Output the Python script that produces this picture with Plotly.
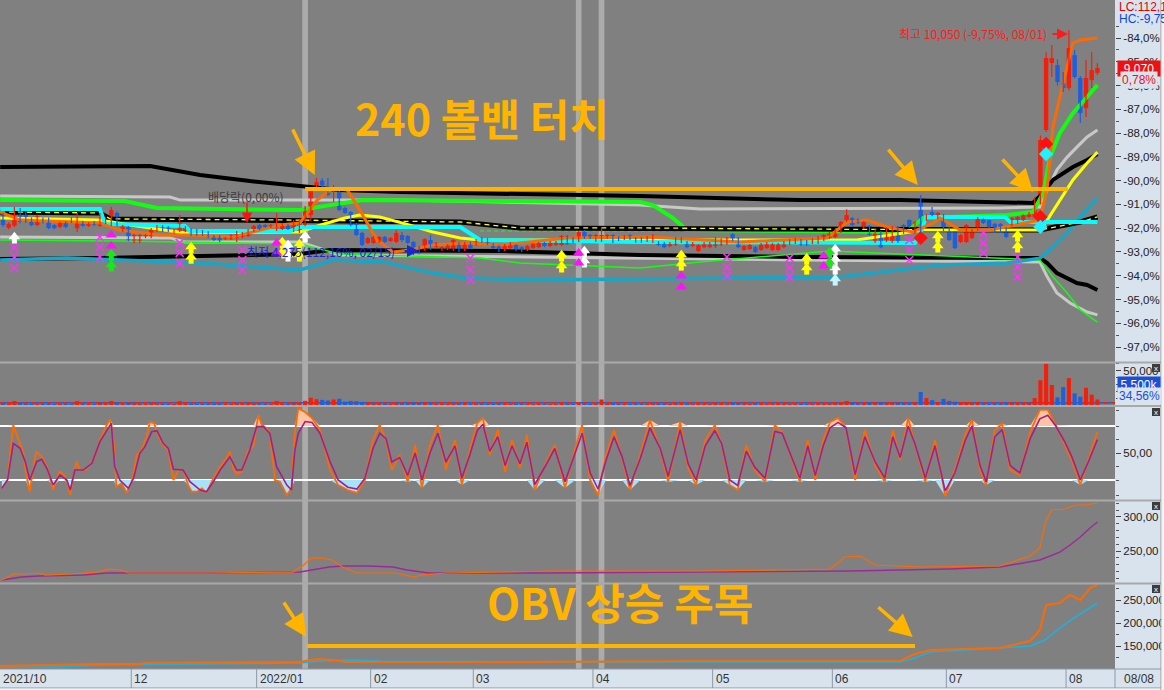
import plotly.graph_objects as go

# ---------------- data ----------------
month_labels = ['2021/10', '12', '2022/01', '02', '03', '04', '05', '06', '07', '08']
month_starts = [0, 23, 45, 65, 83, 104, 125, 146, 166, 187]

opens = [
    -91.45, -91.98, -91.90, -91.20, -91.32, -91.58, -91.87, -91.58, -91.60, -91.87,
    -91.95, -91.74, -91.58, -92.00, -91.74, -91.90, -91.74, -91.90, -91.78, -91.87,
    -91.36, -92.12, -91.95, -92.58, -92.58, -92.37, -92.37, -92.12, -91.91, -91.95,
    -92.20, -92.12, -92.12, -92.04, -92.08, -92.12, -92.16, -92.33, -92.33, -92.46,
    -92.46, -92.42, -92.37, -92.33, -92.12, -91.87, -91.87, -91.95, -91.95, -92.04,
    -91.87, -92.12, -92.16, -91.87, -91.45, -90.27, -90.00, -90.39, -90.48, -90.39,
    -91.15, -91.32, -91.82, -92.20, -92.62, -92.62, -92.58, -92.37, -92.54, -92.58,
    -92.29, -92.33, -92.58, -92.80, -92.92, -92.50, -92.80, -92.92, -92.88, -92.88,
    -92.62, -92.92, -92.62, -92.71, -92.42, -92.46, -92.67, -92.75, -92.92, -92.84,
    -92.71, -92.80, -92.92, -92.84, -92.80, -92.62, -92.75, -92.71, -92.71, -92.33,
    -92.42, -92.54, -92.16, -92.29, -92.54, -92.50, -92.42, -92.29, -92.37, -92.46,
    -92.29, -92.42, -92.42, -92.54, -92.54, -92.58, -92.62, -92.75, -92.71, -92.58,
    -92.58, -92.75, -92.96, -92.80, -92.80, -92.75, -92.71, -92.67, -92.25, -92.42,
    -92.92, -92.88, -92.80, -92.92, -92.84, -92.92, -92.92, -92.80, -92.67, -92.62,
    -92.50, -92.54, -92.62, -92.62, -92.50, -92.42, -92.37, -92.16, -91.66, -91.58,
    -91.62, -92.00, -91.91, -92.58, -92.16, -92.50, -92.58, -91.95, -91.87, -91.66,
    -92.20, -90.82, -91.66, -91.32, -91.58, -91.45, -91.99, -92.16, -92.58, -92.58,
    -92.42, -92.08, -91.62, -91.66, -91.82, -91.82, -91.99, -91.87, -91.78, -91.66,
    -91.53, -91.53, -90.94, -87.87, -85.05, -85.14, -85.89, -86.10, -84.72, -85.68,
    -86.95, -85.77, -85.47]
highs = [
    -91.36, -91.75, -91.11, -91.15, -91.28, -91.55, -91.45, -91.55, -91.55, -91.82,
    -91.74, -91.70, -91.55, -91.36, -91.70, -91.74, -91.70, -91.36, -91.55, -91.11,
    -91.30, -91.87, -91.91, -92.25, -92.25, -92.25, -91.99, -91.87, -91.87, -91.91,
    -92.04, -91.45, -91.91, -92.00, -92.04, -92.08, -92.12, -92.29, -92.29, -92.37,
    -92.25, -92.12, -92.16, -92.04, -91.87, -91.82, -91.82, -91.82, -91.36, -91.78,
    -91.82, -91.66, -91.66, -91.07, -90.27, -89.89, -89.90, -89.89, -90.18, -90.35,
    -91.10, -91.28, -91.78, -92.16, -92.37, -92.33, -92.33, -92.33, -92.37, -92.08,
    -92.16, -92.29, -92.54, -92.75, -92.42, -92.29, -92.58, -92.75, -92.67, -92.46,
    -92.58, -92.58, -92.58, -92.46, -92.37, -92.42, -92.62, -92.71, -92.67, -92.58,
    -92.67, -92.75, -92.71, -92.62, -92.58, -92.58, -92.54, -92.54, -92.29, -92.29,
    -92.37, -92.12, -92.08, -92.25, -92.25, -91.95, -92.25, -92.25, -92.33, -92.29,
    -92.25, -92.37, -92.37, -92.33, -92.25, -92.54, -92.58, -92.58, -92.37, -92.37,
    -92.54, -92.58, -92.67, -92.58, -92.58, -92.37, -92.42, -92.37, -92.20, -92.37,
    -92.71, -92.67, -92.75, -92.62, -92.58, -92.62, -92.62, -92.54, -92.46, -92.42,
    -92.46, -92.50, -92.42, -92.33, -92.25, -92.16, -92.04, -91.70, -91.20, -91.53,
    -91.58, -91.70, -91.87, -92.04, -92.12, -91.95, -91.91, -91.91, -91.82, -91.62,
    -91.70, -90.60, -91.41, -91.11, -91.32, -91.41, -91.95, -92.12, -92.25, -91.82,
    -92.04, -91.53, -91.58, -91.62, -91.78, -91.78, -91.95, -91.53, -91.49, -91.41,
    -91.32, -90.69, -88.10, -84.60, -84.29, -84.90, -85.43, -83.66, -84.50, -85.60,
    -84.93, -84.59, -85.05]
lows = [
    -91.95, -92.05, -91.95, -91.80, -91.78, -91.92, -91.92, -91.80, -92.05, -92.05,
    -92.00, -92.00, -91.78, -92.16, -91.95, -91.95, -91.92, -91.95, -91.82, -91.92,
    -91.92, -92.16, -92.55, -92.63, -92.63, -92.42, -92.42, -92.16, -92.16, -92.16,
    -92.24, -92.16, -92.16, -92.33, -92.33, -92.33, -92.42, -92.54, -92.58, -92.50,
    -92.50, -92.58, -92.42, -92.37, -92.16, -92.08, -91.99, -91.99, -92.12, -92.08,
    -92.08, -92.16, -92.20, -91.92, -91.70, -90.31, -90.27, -90.65, -90.90, -91.28,
    -91.40, -91.92, -92.33, -92.75, -92.67, -92.67, -92.62, -92.62, -92.58, -92.62,
    -92.58, -92.67, -93.13, -93.10, -92.96, -92.92, -92.84, -92.96, -92.92, -92.96,
    -93.00, -92.96, -92.88, -92.75, -92.62, -92.71, -92.88, -93.00, -92.96, -92.88,
    -92.96, -93.00, -92.96, -92.88, -92.84, -92.80, -92.80, -92.75, -92.75, -92.71,
    -92.62, -92.58, -92.46, -92.46, -92.58, -92.58, -92.46, -92.62, -92.54, -92.50,
    -92.50, -92.62, -92.62, -92.58, -92.62, -92.75, -92.84, -92.80, -92.75, -92.62,
    -92.84, -92.80, -93.00, -92.84, -92.84, -92.84, -92.75, -92.71, -92.54, -92.84,
    -92.96, -92.92, -93.04, -92.96, -92.88, -92.96, -92.96, -92.84, -92.71, -92.67,
    -92.75, -92.75, -92.67, -92.67, -92.54, -92.46, -92.42, -92.20, -91.74, -91.92,
    -91.82, -92.04, -92.33, -92.62, -92.84, -92.58, -92.62, -92.62, -92.25, -91.99,
    -92.24, -92.20, -91.70, -91.50, -91.62, -92.12, -92.54, -92.88, -92.62, -92.62,
    -92.46, -92.12, -91.82, -91.99, -92.20, -92.20, -92.42, -91.92, -91.82, -91.70,
    -91.58, -91.58, -91.00, -87.95, -85.64, -86.00, -86.27, -86.20, -85.70, -87.58,
    -87.32, -86.10, -85.56]
closes = [
    -91.87, -91.82, -91.32, -91.74, -91.74, -91.87, -91.50, -91.74, -92.00, -92.00,
    -91.78, -91.95, -91.74, -91.74, -91.90, -91.78, -91.87, -91.58, -91.58, -91.24,
    -91.87, -91.91, -92.50, -92.29, -92.29, -92.29, -92.04, -91.91, -92.12, -92.12,
    -92.08, -91.70, -91.95, -92.29, -92.29, -92.29, -92.37, -92.50, -92.54, -92.42,
    -92.29, -92.25, -92.20, -92.08, -91.91, -92.04, -91.95, -91.87, -91.87, -91.82,
    -92.04, -91.70, -91.70, -91.15, -90.31, -90.06, -90.20, -90.60, -90.27, -91.24,
    -91.36, -91.87, -92.29, -92.71, -92.42, -92.37, -92.37, -92.58, -92.42, -92.20,
    -92.50, -92.62, -93.04, -93.04, -92.46, -92.80, -92.62, -92.80, -92.71, -92.50,
    -92.96, -92.62, -92.84, -92.50, -92.58, -92.67, -92.84, -92.96, -92.71, -92.62,
    -92.92, -92.96, -92.75, -92.67, -92.62, -92.75, -92.58, -92.58, -92.33, -92.67,
    -92.58, -92.16, -92.42, -92.42, -92.29, -92.29, -92.29, -92.58, -92.50, -92.33,
    -92.46, -92.58, -92.58, -92.37, -92.33, -92.71, -92.80, -92.62, -92.42, -92.42,
    -92.80, -92.62, -92.71, -92.62, -92.62, -92.50, -92.46, -92.42, -92.50, -92.80,
    -92.75, -92.71, -93.00, -92.67, -92.62, -92.67, -92.67, -92.58, -92.50, -92.46,
    -92.71, -92.71, -92.46, -92.37, -92.29, -92.20, -92.08, -91.74, -91.45, -91.87,
    -91.78, -91.74, -92.29, -92.08, -92.80, -92.08, -91.95, -92.58, -92.20, -91.95,
    -91.74, -91.74, -91.45, -91.45, -91.36, -92.08, -92.50, -92.84, -92.29, -91.87,
    -92.08, -91.58, -91.78, -91.95, -92.16, -92.16, -92.37, -91.58, -91.53, -91.45,
    -91.36, -91.07, -88.29, -84.84, -84.84, -85.85, -86.10, -84.42, -85.64, -87.16,
    -85.68, -85.35, -85.26]
volumes = [
    2400, 1800, 5800, 2600, 2000, 1700, 2300, 1600, 2200, 1500,
    1900, 1700, 1500, 5600, 1600, 1800, 1500, 3000, 2000, 5800,
    2600, 1800, 3200, 2400, 2200, 1600, 2500, 2000, 1700, 1600,
    1500, 5700, 1800, 1900, 1600, 1500, 1800, 2000, 1900, 1400,
    1700, 2200, 1800, 2600, 2300, 1900, 1500, 1600, 5800, 1900,
    1800, 2800, 3000, 6000, 10500, 8500, 7500, 6500, 8000, 9000,
    5000, 6000, 5500, 4500, 3000, 2600, 2200, 2000, 1800, 2800,
    2000, 2200, 3200, 2600, 2800, 2400, 1800, 1600, 1700, 2400,
    2000, 2100, 1700, 1900, 1800, 1700, 1900, 2000, 1800, 1900,
    1600, 1700, 1800, 1600, 1700, 1500, 1600, 1500, 2400, 2200,
    1800, 2600, 2200, 1800, 2000, 8000, 2200, 2400, 1700, 1600,
    1800, 1900, 1700, 1800, 2200, 2000, 1900, 1800, 2400, 1900,
    2000, 1700, 2300, 1700, 1800, 2400, 2000, 1900, 2600, 2400,
    2000, 1700, 2200, 1900, 1800, 1900, 1800, 1900, 2000, 1800,
    1800, 1700, 1900, 2000, 2200, 2400, 2600, 3600, 5800, 3000,
    2200, 2400, 3000, 3500, 3800, 3000, 3600, 3400, 2600, 2400,
    3400, 18900, 10000, 7000, 3800, 9000, 6000, 4800, 3000, 4200,
    2800, 3400, 2200, 2000, 2400, 2200, 2600, 3000, 2400, 2600,
    3000, 10000, 36000, 60000, 29000, 11000, 26000, 39000, 17000, 12000,
    25000, 15000, 8000]
vol_ma_level = 3200

# main-panel indicator lines (x = bar index, y = % axis value)
bb_up_x = [-0.5, 25.8, 34.6, 43.3, 52.1, 59.1, 69.6, 87.2, 111.8, 139.8, 157.4, 180.7, 182.5, 184.2, 186.0, 187.7, 190.2, 192]
bb_up_y = [-89.43, -89.39, -89.76, -90.02, -90.23, -90.39, -90.48, -90.56, -90.65, -90.82, -90.82, -90.94, -90.52, -89.97, -89.68, -89.43, -89.13, -88.88]
bb_dn_x = [-0.5, 17.0, 34.6, 52.1, 57.4, 87.2, 111.8, 139.8, 181.9, 183.2, 184.9, 186.7, 188.4, 190.2, 192]
bb_dn_y = [-93.30, -93.26, -93.17, -93.09, -92.92, -92.96, -93.13, -93.21, -93.26, -93.47, -93.89, -94.10, -94.31, -94.39, -94.60]
ma_mid_x = [-0.5, 17.0, 18.8, 52.1, 80.2, 90.7, 111.8, 139.8, 181.9, 185.4, 189.0, 192]
ma_mid_y = [-91.32, -91.36, -91.61, -91.66, -91.74, -91.99, -91.99, -92.04, -92.08, -91.91, -91.74, -91.53]
silver_up_x = [-0.5, 29.3, 31.1, 69.6, 87.2, 111.8, 122.3, 174.9, 181.9, 183.2, 184.9, 186.7, 188.4, 190.2, 192]
silver_up_y = [-90.65, -90.69, -90.82, -90.82, -90.90, -91.03, -91.19, -91.15, -91.11, -90.39, -89.55, -89.01, -88.59, -88.16, -87.87]
silver_dn_x = [-0.5, 29.3, 31.9, 52.1, 59.1, 87.2, 111.8, 139.8, 181.9, 183.2, 184.9, 187.2, 190.2, 192]
silver_dn_y = [-92.37, -92.41, -92.58, -92.58, -93.13, -93.21, -93.26, -93.34, -93.42, -94.05, -94.73, -95.15, -95.53, -95.65]
green_up_x = [-0.5, 21.4, 27.0, 52.1, 57.4, 63.2, 111.8, 114.0, 117.5, 120.0, 158.6, 161.4, 176.1, 180.7, 182.5, 183.7, 185.4, 187.7, 190.2, 192]
green_up_y = [-90.82, -90.86, -91.15, -91.24, -91.03, -90.82, -90.90, -91.03, -91.57, -92.08, -92.16, -91.57, -91.45, -91.32, -90.52, -89.01, -88.00, -87.16, -86.48, -85.98]
green_dn_x = [-0.5, 20.5, 52.1, 59.1, 83.7, 90.7, 111.8, 122.3, 145.1, 162.6, 181.9, 184.2, 186.7, 189.0, 192]
green_dn_y = [-92.50, -92.54, -92.67, -93.09, -93.26, -93.47, -93.68, -93.42, -92.96, -93.13, -93.34, -94.05, -94.73, -95.44, -95.95]
green_dash_x = [83.7, 181.9]
green_dash_y = [-92.12, -92.12]
cyan_x = [-0.5, 17.0, 17.9, 31.9, 32.8, 50.4, 52.1, 80.2, 83.7, 111.8, 160.0, 161.2, 161.9, 175.8, 176.7, 192]
cyan_y = [-91.19, -91.19, -91.82, -91.91, -92.12, -92.12, -91.95, -91.95, -92.50, -92.58, -92.62, -92.08, -91.53, -91.53, -91.74, -91.74]
teal_x = [-0.5, 11.2, 34.6, 52.1, 57.9, 66.7, 75.4, 81.4, 93.0, 146.8, 164.4, 176.1, 181.9, 184.2, 186.7, 189.0, 192]
teal_y = [-93.34, -93.26, -93.47, -93.76, -93.34, -93.42, -93.89, -94.10, -94.18, -94.05, -93.55, -93.47, -93.26, -92.79, -92.20, -91.53, -90.73]
yellow_x = [-0.5, 17.0, 22.3, 31.9, 52.1, 55.6, 60.0, 62.6, 66.1, 71.4, 75.4, 80.2, 83.7, 149.8, 161.4, 181.9, 183.2, 185.4, 187.7, 190.2, 192]
yellow_y = [-91.57, -91.66, -91.87, -92.20, -92.16, -91.87, -91.57, -91.45, -91.53, -91.87, -92.16, -92.41, -92.50, -92.50, -92.08, -92.08, -91.66, -90.82, -89.97, -89.26, -88.80]
orange_x = [-0.5, 3.0, 17.0, 20.5, 27.5, 32.8, 40.4, 45.1, 48.6, 52.1, 55.1, 57.9, 60.4, 62.6, 65.6, 68.4, 71.4, 75.4, 81.4, 87.2,
            98.9, 113.5, 129.3, 144.6, 148.1, 151.6, 155.1, 159.6, 163.2, 164.4, 167.9, 173.2, 176.1, 181.9, 183.2, 184.2, 186.0, 187.7, 189.0, 192]
orange_y = [-91.32, -91.66, -91.78, -92.08, -92.29, -92.29, -92.37, -92.08, -91.87, -91.78, -90.82, -90.31, -90.39, -91.24, -92.50, -93.00, -92.92, -92.71, -92.62, -92.71,
            -92.41, -92.37, -92.58, -92.41, -91.74, -91.66, -91.95, -92.16, -91.78, -91.57, -92.08, -92.08, -91.95, -91.66, -90.27, -87.74, -85.89, -84.21, -84.08, -84.00]

# signal markers
sig_yellow_x = [33, 33, 49, 49, 52, 52, 98, 98, 119, 119, 141, 141, 164, 164, 178, 178]
sig_yellow_y = [-92.83, -93.26, -92.62, -93.04, -92.71, -93.17, -93.17, -93.63, -93.17, -93.55, -93.30, -93.72, -92.37, -92.79, -92.33, -92.79]
sig_white_x = [2, 50, 50, 53, 102, 102, 146, 146, 146]
sig_white_y = [-92.41, -92.75, -93.17, -92.37, -93.00, -93.42, -92.92, -93.34, -93.72]
sig_ice_x = [146]
sig_ice_y = [-94.18]
sig_green_x = [19, 19, 145, 145]
sig_green_y = [-93.13, -93.59, -93.04, -93.47]
sig_tri_x = [19, 19, 48, 48, 101, 101, 119, 119, 144, 144]
sig_tri_y = [-92.29, -92.75, -92.62, -93.04, -93.04, -93.47, -94.01, -94.48, -93.17, -93.59]
sig_cross_x = [2, 2, 2, 17, 17, 17, 31, 31, 31, 42, 42, 42, 82, 82, 82, 127, 127, 127, 138, 138, 138, 159, 159, 159, 172, 172, 172, 178, 178, 178]
sig_cross_y = [-92.83, -93.21, -93.68, -92.37, -92.79, -93.21, -92.62, -93.04, -93.47, -92.92, -93.34, -93.76, -93.26, -93.76, -94.18,
               -93.21, -93.63, -94.01, -93.26, -93.68, -94.05, -92.50, -92.92, -93.34, -92.20, -92.62, -93.04, -93.21, -93.63, -94.05]
dia_red_x = [161, 182, 183]
dia_red_y = [-92.41, -91.53, -88.46]
dia_cyan_x = [182, 183]
dia_cyan_y = [-91.95, -88.88]

# stochastic
sto_k_x = [-0.2, 0.8, 1.8, 2.1, 2.7, 3.6, 4.0, 4.7, 5.0, 5.8, 6.8, 7.7, 8.5, 8.8, 9.1, 9.9, 10.7, 11.3, 11.8, 12.3,
           12.9, 13.5, 14.4, 15.3, 16.1, 17.0, 18.2, 18.8, 19.4, 19.9, 20.8, 21.7, 22.6, 23.5, 24.3, 25.2, 25.8, 26.5, 27.3, 28.1,
           29.0, 29.9, 30.8, 31.6, 32.5, 33.1, 34.0, 34.9, 35.7, 36.9, 38.1, 39.2, 39.8, 40.4, 41.0, 41.9, 43.0, 43.9, 44.8, 45.4,
           46.3, 46.8, 47.7, 48.6, 49.8, 50.6, 51.2, 51.8,
           53.0, 54.2, 55.6, 57.4, 58.8, 60.5, 62.1, 63.5, 64.9, 66.1, 67.2, 68.2, 69.6, 71.0, 72.3, 73.5, 74.9, 76.3, 77.7, 79.3,
           80.5, 81.9, 83.2, 84.2, 85.4, 86.8, 88.1, 89.3, 90.7, 91.9, 93.3, 95.1, 96.8, 98.6, 100.4, 101.6, 103.0, 104.4, 105.8, 107.2,
           108.6, 110.0, 111.8, 113.5, 115.3, 116.7, 118.8, 120.2, 121.6, 123.2, 124.9, 126.1, 127.5, 128.9, 130.4, 131.9, 133.7, 135.4, 136.7, 138.1,
           139.8, 141.2, 142.5, 143.9, 145.1, 146.5, 147.9, 149.5, 151.2, 153.0, 154.7, 156.1, 157.4, 158.8, 160.0, 161.8, 163.5, 165.3, 167.0, 168.8,
           170.0, 171.4, 172.5, 174.0, 175.3, 176.7, 178.4, 180.2, 181.9, 183.3, 184.7, 186.3, 187.5, 189.0, 190.4, 192.0]
sto_k_y = [10.8, 20, 81, 75.6, 64.4, 49.6, 29.3, 7, 20, 51.5, 45.9, 34.8, 16.3, 8.9, 14.4, 29.3, 25.6, 16.3, 3.3, 23.7,
           40.4, 31.1, 31.1, 36.7, 45.9, 64.4, 81, 87.4, 64.4, 12.6, 16.3, 5.9, 18.1, 47.8, 53.3, 68.1, 84.8, 83, 68.1, 58.9,
           53.3, 20, 31.1, 31.1, 14.4, 7, 7, 10.8, 5.9, 21.9, 34.8, 44.1, 51.5, 33, 26.7, 29.3, 53.3, 57, 92.2, 81,
           77.4, 71.9, 20, 18.1, 3.3, 10.8, 71.9, 99.6,
           95.6, 88.9, 75.6, 31, 14.4, 8.9, 5.6, 20, 64.4, 81, 64.4, 31, 47.8, 17.8, 58.9, 11.1, 58.9, 81, 31, 64.4,
           14.4, 53.3, 83.3, 88.9, 47.8, 75.6, 28.9, 64.4, 33.3, 70, 8.9, 36.7, 58.9, 11.1, 55.6, 81, 20, 3.3, 47.8, 75.6,
           44.4, 8.9, 47.8, 86.7, 53.3, 17.8, 84.4, 33.3, 14.4, 64.4, 81, 58.9, 14.4, 8.9, 58.9, 31, 17.8, 81, 73.3, 47.8,
           17.8, 64.4, 20, 64.4, 84.4, 88.9, 77.8, 20, 75.6, 36.7, 17.8, 75.6, 42.2, 88.9, 58.9, 17.8, 64.4, 2.2, 31, 70,
           86.7, 31, 14.4, 75.6, 82.2, 31, 25.6, 73.3, 97.8, 97.8, 81, 58.9, 42.2, 14.4, 42.2, 73.3]
sto_d_x = [-0.2, 0.8, 1.8, 3.0, 3.9, 4.7, 5.9, 6.8, 7.7, 8.8, 10.0, 11.2, 11.8, 12.6, 14.1, 15.6, 17.0, 19.0, 19.6, 20.5,
           22.0, 22.9, 24.0, 24.9, 26.1, 27.0, 28.1, 29.0, 29.9, 31.6, 32.8, 34.6, 35.7, 36.9, 38.1, 39.8, 41.0, 41.9, 43.3, 44.5,
           45.7, 46.8, 48.0, 49.8, 50.6, 51.2, 51.8,
           53.0, 54.2, 55.6, 57.4, 58.8, 60.5, 62.1, 63.5, 64.9, 66.1, 67.2, 68.2, 69.6, 71.0, 72.3, 73.5, 74.9, 76.3, 77.7, 79.3,
           80.5, 81.9, 83.2, 84.2, 85.4, 86.8, 88.1, 89.3, 90.7, 91.9, 93.3, 95.1, 96.8, 98.6, 100.4, 101.6, 103.0, 104.4, 105.8, 107.2,
           108.6, 110.0, 111.8, 113.5, 115.3, 116.7, 118.8, 120.2, 121.6, 123.2, 124.9, 126.1, 127.5, 128.9, 130.4, 131.9, 133.7, 135.4, 136.7, 138.1,
           139.8, 141.2, 142.5, 143.9, 145.1, 146.5, 147.9, 149.5, 151.2, 153.0, 154.7, 156.1, 157.4, 158.8, 160.0, 161.8, 163.5, 165.3, 167.0, 168.8,
           170.0, 171.4, 172.5, 174.0, 175.3, 176.7, 178.4, 180.2, 181.9, 183.3, 184.7, 186.3, 187.5, 189.0, 190.4, 192.0]
sto_d_y = [10.8, 20, 60.7, 55.2, 40.4, 20, 40.4, 43, 33, 14.4, 25.6, 20, 8.9, 31.1, 31.1, 38.5, 62.6, 83, 34.8, 20,
           10.8, 21.9, 49.6, 57, 73.7, 74.8, 60.7, 55.2, 31.9, 31.1, 18.1, 8.9, 7, 18.1, 31.1, 45.9, 31.1, 31.1, 53.3, 79.3,
           79.3, 71.9, 34.8, 14.4, 8.9, 53.3, 71.9,
           85, 84, 72, 40, 20, 12, 10, 22, 55, 72, 66, 40, 45, 25, 50, 20, 50, 72, 40, 58,
           22, 48, 75, 82, 52, 68, 36, 58, 38, 62, 15, 35, 55, 18, 50, 72, 28, 10, 42, 68,
           46, 14, 44, 78, 55, 24, 76, 38, 20, 58, 75, 60, 20, 14, 52, 34, 22, 74, 72, 50,
           22, 58, 25, 58, 78, 84, 78, 26, 68, 40, 22, 68, 45, 80, 60, 22, 58, 8, 28, 64,
           80, 36, 18, 68, 76, 36, 28, 66, 88, 92, 80, 62, 46, 20, 40, 65]

# 4th panel
p4_purple_x = [-0.2, 3.2, 6.3, 14.2, 18.2, 36.5, 52.1, 53.3, 57.2, 59.6, 64.0, 68.4, 70.9, 74.7, 95.3, 122.3, 148.6, 166.1, 174.9, 181.9, 185.4, 187.2, 189.0, 190.7, 192.0]
p4_purple_y = [207.4, 211.8, 213.3, 214.7, 217.7, 217.7, 219.1, 220.6, 226.5, 228.0, 228.0, 226.5, 222.1, 217.7, 217.7, 219.1, 220.6, 223.5, 226.5, 236.8, 248.5, 258.8, 270.6, 283.8, 292.6]
p4_orange_x = [-0.2, 1.9, 3.2, 6.3, 7.5, 11.9, 16.3, 18.9, 20.7, 22.1, 36.5, 50.9, 52.8, 54.0, 56.1, 57.7, 59.6, 62.1, 68.9, 72.1,
               73.3, 77.7, 96.0, 122.3, 145.1, 147.7, 150.4, 153.0, 160.9, 174.9, 180.2, 181.9, 183.0, 184.0, 186.3, 188.1, 189.9, 192.0]
p4_orange_y = [207.4, 216.2, 216.2, 217.7, 214.7, 216.2, 219.1, 223.5, 222.1, 217.7, 217.7, 219.1, 229.4, 239.7, 239.7, 236.8, 226.5, 217.7, 217.7, 211.8,
               214.7, 217.7, 220.6, 220.6, 223.5, 241.2, 242.6, 229.4, 226.5, 228.0, 242.6, 254.4, 295.6, 310.3, 311.7, 317.6, 317.6, 320.6]

# OBV
obv_cyan_x = [-0.5, 10.0, 17.0, 52.1, 55.6, 60.9, 66.1, 97.7, 122.3, 157.4, 160.0, 162.6, 174.9, 180.2, 182.8, 185.4, 188.1, 190.7, 192.0]
obv_cyan_y = [104300, 104300, 108700, 113000, 117400, 119600, 117400, 115200, 115200, 115200, 123900, 137000, 145700, 150000, 163000, 189100, 213000, 232600, 243500]
obv_orange_x = [-0.5, 17.0, 24.0, 24.9, 52.1, 53.9, 55.6, 57.7, 60.4, 87.2, 122.3, 157.4, 159.5, 162.6, 174.9, 180.2, 181.9, 183.0, 185.4, 187.2, 189.0, 190.7, 192.0]
obv_orange_y = [106500, 110900, 110900, 113000, 115200, 119600, 121700, 119600, 115200, 115200, 117400, 117400, 130400, 141300, 145700, 160900, 184800, 239100, 243500, 260900, 250000, 276100, 282600]

# ---------------- style ----------------
W, H = 1164, 690
PW, PH = 1115, 669          # plot area
RED = '#f41e0a'
BLUE = '#1f5fdc'
GOLD = '#ffb400'
GRAY_BG = '#808080'
PANEL = '#d9e3ee'
XR = [-3 / 5.7, (PW - 3) / 5.7]

def py(ypix):
    return 1 - ypix / PH

def px(xpix):
    return xpix / PW

fig = go.Figure()

def add_line(x, y, color, width, ax='', dash=None, **kw):
    fig.add_trace(go.Scatter(x=x, y=y, mode='lines', xaxis='x' + ax, yaxis='y' + ax,
                             line=dict(color=color, width=width, dash=dash),
                             hoverinfo='skip', showlegend=False, **kw))

# main panel lines
add_line(silver_up_x, silver_up_y, '#c8c8c8', 3)
add_line(silver_dn_x, silver_dn_y, '#c8c8c8', 3)
add_line(bb_up_x, bb_up_y, '#000000', 4)
add_line(bb_dn_x, bb_dn_y, '#000000', 4)
add_line(green_dn_x, green_dn_y, '#10ff10', 1.5)
add_line(green_dash_x, green_dash_y, '#10ff10', 1.2, dash='4px,3px')
add_line(green_up_x, green_up_y, '#10ff10', 4)
add_line(teal_x, teal_y, '#18a6c6', 3.5)
add_line(ma_mid_x, ma_mid_y, '#000000', 5)
add_line(ma_mid_x, ma_mid_y, '#ffff00', 1.3, dash='5px,4px')
add_line(yellow_x, yellow_y, '#ffff00', 3)
add_line(cyan_x, cyan_y, '#00ffff', 4)
add_line(orange_x, orange_y, '#ff6a00', 3)

# candles
ups = [c >= o for o, c in zip(opens, closes)]
for want, col in ((True, RED), (False, BLUE)):
    wx, wy = [], []
    for i in range(len(closes)):
        if ups[i] == want:
            wx += [i, i, None]
            wy += [lows[i], highs[i], None]
    add_line(wx, wy, col, 1.2)
idx = list(range(len(closes)))
fig.add_trace(go.Bar(x=idx, y=[max(abs(c - o), 0.04) for o, c in zip(opens, closes)],
                     base=[min(o, c) for o, c in zip(opens, closes)], width=0.78,
                     marker=dict(color=[RED if u else BLUE for u in ups], line=dict(width=0)),
                     xaxis='x', yaxis='y', hoverinfo='skip', showlegend=False))

# signal markers
def marks(x, y, symbol, size, color, lw=0, lc=None):
    fig.add_trace(go.Scatter(x=x, y=y, mode='markers', xaxis='x', yaxis='y',
                             marker=dict(symbol=symbol, size=size, color=color,
                                         line=dict(width=lw, color=lc or color)),
                             hoverinfo='skip', showlegend=False))

def arrows(x, y, color):
    marks(x, [v + 0.05 for v in y], 'triangle-up', 10, color)
    marks(x, [v - 0.13 for v in y], 'square', 5, color)

arrows(sig_yellow_x, sig_yellow_y, '#ffff00')
arrows(sig_white_x, sig_white_y, '#ffffff')
arrows(sig_ice_x, sig_ice_y, '#c8f4ff')
arrows(sig_green_x, sig_green_y, '#18e818')
marks(sig_tri_x, sig_tri_y, 'triangle-up', 10, '#ff10ff')
marks(sig_cross_x, sig_cross_y, 'x-thin', 8, '#ff30ff', lw=1.5)
marks(dia_red_x, dia_red_y, 'diamond', 11, '#ff1010')
marks(dia_cyan_x, dia_cyan_y, 'diamond', 11, '#20f0ff')

# volume
fig.add_trace(go.Bar(x=idx, y=volumes, width=0.72, xaxis='x2', yaxis='y2',
                     marker=dict(color=[RED if u else BLUE for u in ups], line=dict(width=0)),
                     hoverinfo='skip', showlegend=False))

# stochastic with fills
n = len(sto_k_x)
add_line(sto_k_x, [80] * n, 'rgba(0,0,0,0)', 0, ax='3')
add_line(sto_k_x, [max(v, 80) for v in sto_k_y], 'rgba(0,0,0,0)', 0, ax='3', fill='tonexty', fillcolor='#ffc4a4')
add_line(sto_k_x, [20] * n, 'rgba(0,0,0,0)', 0, ax='3')
add_line(sto_k_x, [min(v, 20) for v in sto_k_y], 'rgba(0,0,0,0)', 0, ax='3', fill='tonexty', fillcolor='#a8e2f8')
add_line(sto_k_x, sto_k_y, '#ff6a00', 1.8, ax='3')
add_line(sto_d_x, sto_d_y, '#a0208c', 1.6, ax='3')

# panel 4
add_line(p4_purple_x, p4_purple_y, '#9a2a9a', 1.4, ax='4')
add_line(p4_orange_x, p4_orange_y, '#ff6a00', 1.2, ax='4')

# OBV
add_line(obv_cyan_x, obv_cyan_y, '#1ab2e4', 1.5, ax='5')
add_line(obv_orange_x, obv_orange_y, '#ff6a00', 2, ax='5')

# ---------------- axes ----------------
doms = {
    '': [py(362), 1.0],
    '2': [py(405), py(363)],
    '3': [py(500), py(407)],
    '4': [py(583), py(501)],
    '5': [0.0, py(584)],
}
yr = {
    '': [-84 - (362 - 38) / 23.77, -84 + 38 / 23.77],
    '2': [0, 61000],
    '3': [-2.2, 101.1],
    '4': [203, 323.5],
    '5': [100000, 284800],
}
main_ticks = list(range(-97, -83))
ticks = {
    '': (main_ticks, [f'{v:.1f}%'.replace('.', ',') for v in main_ticks], [v + 0.5 for v in main_ticks]),
    '2': ([50000], ['50,000'], [10000, 20000, 30000, 40000, 60000]),
    '3': ([50], ['50,00'], [3, 20, 35, 65, 80, 97]),
    '4': ([250, 300], ['250,00', '300,00'], [210, 220, 230, 240, 260, 270, 280, 290, 310, 320]),
    '5': ([150000, 200000, 250000], ['150,000', '200,000', '250,000'], [125000, 175000, 225000, 275000]),
}
layout = dict(width=W, height=H, margin=dict(l=0, r=W - PW, t=0, b=H - PH),
              paper_bgcolor=PANEL, plot_bgcolor='rgba(0,0,0,0)', barmode='overlay',
              showlegend=False, font=dict(family='Liberation Sans', size=11, color='#222'))
for k in doms:
    layout['xaxis' + k] = dict(domain=[0, 1], range=XR, visible=False, anchor='y' + k, fixedrange=True)
    tv, tt, mv = ticks[k]
    layout['yaxis' + k] = dict(domain=doms[k], range=yr[k], side='right', anchor='x' + k,
                               showgrid=False, zeroline=False, showline=False,
                               ticks='outside', ticklen=5, tickcolor='#444', tickwidth=1,
                               tickmode='array', tickvals=tv, ticktext=tt,
                               tickfont=dict(family='Liberation Sans', size=11.5, color='#222'),
                               minor=dict(ticks='outside', ticklen=3, tickcolor='#555', tickvals=mv),
                               fixedrange=True)
fig.update_layout(**layout)

# ---------------- shapes ----------------
shapes = []
shapes.append(dict(type='rect', xref='paper', yref='paper', x0=0, x1=1, y0=0, y1=1,
                   fillcolor=GRAY_BG, line=dict(width=0), layer='below'))
for c in (53, 101, 105):
    shapes.append(dict(type='rect', xref='x', yref='paper', x0=c - 0.5, x1=c + 0.5, y0=0, y1=1,
                       fillcolor='rgba(190,190,190,0.7)', line=dict(width=0), layer='below'))
for lv in (80, 20):
    shapes.append(dict(type='line', xref='paper', yref='y3', x0=0, x1=1, y0=lv, y1=lv,
                       line=dict(color='#ffffff', width=2), layer='below'))
shapes.append(dict(type='line', xref='paper', yref='y2', x0=0, x1=1, y0=vol_ma_level, y1=vol_ma_level,
                   line=dict(color=BLUE, width=1.5), layer='below'))
shapes.append(dict(type='line', xref='paper', yref='y2', x0=0, x1=1, y0=vol_ma_level, y1=vol_ma_level,
                   line=dict(color=RED, width=1.5, dash='4px,4px'), layer='below'))
for ysep in (362.5, 406, 500.5, 583.5):
    shapes.append(dict(type='line', xref='paper', yref='paper', x0=0, x1=px(1161), y0=py(ysep), y1=py(ysep),
                       line=dict(color='#a9a9a9', width=2), layer='above'))
# gold guide lines
shapes.append(dict(type='line', xref='x', yref='y', x0=53, x1=186.8, y0=-90.35, y1=-90.35,
                   line=dict(color=GOLD, width=4), layer='above'))
shapes.append(dict(type='line', xref='x5', yref='y5', x0=53.3, x1=160, y0=150000, y1=150000,
                   line=dict(color=GOLD, width=4), layer='above'))
# bottom band
for k in month_starts[1:]:
    shapes.append(dict(type='line', xref='x5', yref='paper', x0=k - 0.5, x1=k - 0.5, y0=py(688), y1=0,
                       line=dict(color='#8d99a6', width=1)))
shapes.append(dict(type='line', xref='paper', yref='paper', x0=0, x1=px(1161), y0=py(669), y1=py(669),
                   line=dict(color='#8d99a6', width=1)))
shapes.append(dict(type='line', xref='paper', yref='paper', x0=1, x1=1, y0=py(688), y1=0,
                   line=dict(color='#8d99a6', width=1)))
shapes.append(dict(type='line', xref='paper', yref='paper', x0=0, x1=px(1161), y0=py(688), y1=py(688),
                   line=dict(color='#8d99a6', width=1)))
shapes.append(dict(type='rect', xref='paper', yref='paper', x0=0, x1=px(1164), y0=py(690), y1=py(688.5),
                   fillcolor='#f2f2f2', line=dict(width=0)))
shapes.append(dict(type='line', xref='paper', yref='paper', x0=px(1161), x1=px(1161), y0=py(690), y1=1,
                   line=dict(color='#9a9a9a', width=1)))
shapes.append(dict(type='rect', xref='paper', yref='paper', x0=px(1161.5), x1=px(1164), y0=py(690), y1=1,
                   fillcolor='#f4f4f4', line=dict(width=0)))
for yic in (364, 408, 502, 585):
    shapes.append(dict(type='rect', xref='paper', yref='paper', x0=px(1152), x1=px(1160),
                       y0=py(yic + 8), y1=py(yic), fillcolor='#3c3c3c', line=dict(width=0)))
fig.update_layout(shapes=shapes)

# ---------------- annotations ----------------
KR = 'Noto Sans CJK KR'
ann = []

def text(t, x, y, size=12, color='#222', xa='center', family=None, **kw):
    f = dict(size=size, color=color)
    if family:
        f['family'] = family
    ann.append(dict(text=t, xref='paper', yref='paper', x=x, y=y, xanchor=xa, yanchor='middle',
                    showarrow=False, font=f, **kw))

text('<b>240 볼밴 터치</b>', px(482), py(117), 43, GOLD, family=KR)
text('<b>OBV 상승 주목</b>', px(620), py(601), 43, GOLD, family=KR)
for (hx, hy, tx, ty, a) in ((54.7, -89.76, 50.7, -87.79, ''), (160.5, -90.18, 155.1, -88.63, ''),
                            (180.7, -90.48, 175.1, -89.05, ''), (53.2, 169600, 49.1, 247800, '5'),
                            (159.6, 169600, 153.3, 237000, '5')):
    ann.append(dict(text='', x=hx, y=hy, ax=tx, ay=ty, xref='x' + a, yref='y' + a, axref='x' + a, ayref='y' + a,
                    showarrow=True, arrowhead=2, arrowsize=1.3, arrowwidth=3.5, arrowcolor=GOLD))
text('최고 10,050 (-9,75%, 08/01)', px(1049), py(33), 12, '#ff1a1a', xa='right', family=KR)
ann.append(dict(text='', xref='paper', yref='paper', x=px(1068), y=py(34), ax=-17, ay=0, showarrow=True,
                arrowhead=2, arrowsize=1.1, arrowwidth=2, arrowcolor='#ff1a1a'))
text('배당락(0,00%)', px(246), py(196), 12, '#3c3c3c', family=KR)
ann.append(dict(text='', xref='paper', yref='paper', x=px(247), y=py(223), ax=0, ay=-22, showarrow=True,
                arrowhead=2, arrowsize=1.4, arrowwidth=1.5, arrowcolor='#ff1010'))
text('최저 4,275(112,16%, 02/15)', px(245), py(251), 12, '#1a28d0', xa='left', family=KR)
ann.append(dict(text='', xref='paper', yref='paper', x=px(419), y=py(251), ax=-16, ay=0, showarrow=True,
                arrowhead=2, arrowsize=1.2, arrowwidth=2, arrowcolor='#1a28d0'))
# right panel labels
text('LC:112,1', px(1117), py(7), 12, '#e00000', xa='left')
text('HC:-9,75', px(1117), py(19), 12, '#0a46e0', xa='left')
text('9,070', px(1139), py(68), 12, '#ffffff', bgcolor='#ee1111', width=40, height=13)
text('0,78%', px(1139), py(80), 12, '#ee1111', bgcolor=PANEL)
text('5,500k', px(1139), py(384), 12, '#ffffff', bgcolor='#1a50d6', width=40, height=13)
text('34,56%', px(1139), py(396), 12, '#1a50d6', bgcolor=PANEL)
for yic in (364, 408, 502, 585):
    text('x', px(1156), py(yic + 4), 8, '#ffffff')
# bottom month labels
for k, lab in zip(month_starts, month_labels):
    ann.append(dict(text=lab, xref='x5', yref='paper', x=k - 0.5, y=py(679), xanchor='left', yanchor='middle',
                    xshift=1, showarrow=False, font=dict(size=12, color='#333333')))
text('08/08', px(1139), py(679), 12, '#333333')
fig.update_layout(annotations=ann)

fig.write_html('out.html', config={'displayModeBar': False, 'staticPlot': True},
               post_script="document.body.style.margin='0';document.body.style.padding='0';"
                           "document.body.style.overflow='hidden';")
